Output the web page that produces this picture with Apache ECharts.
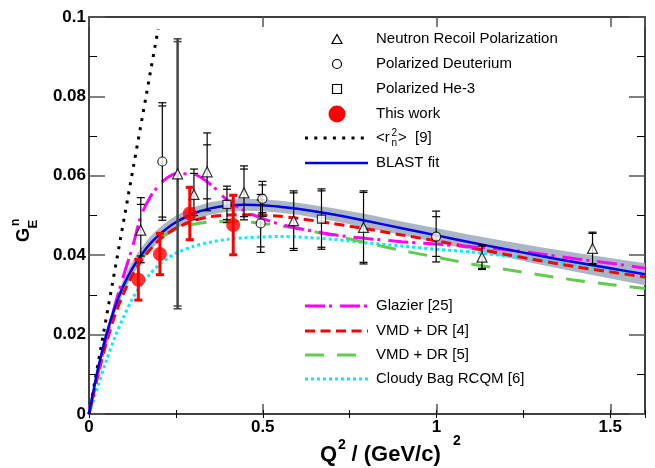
<!DOCTYPE html>
<html><head><meta charset="utf-8">
<script src="https://cdn.jsdelivr.net/npm/echarts@6/dist/echarts.min.js"></script>
<style>html,body{margin:0;padding:0;background:#fff}#c{width:655px;height:468px}</style>
</head><body><div id="c"></div>
<script>
// ---------- data ----------
const gridX    = [0,0.025,0.05,0.075,0.1,0.125,0.15,0.175,0.2,0.225,0.25,0.3,0.35,0.4,0.45,0.5,0.55,0.6,0.7,0.8,0.9,1.0,1.1,1.2,1.3,1.4,1.5,1.6];
const blastY   = [0,0.011,0.020,0.027,0.0325,0.0367,0.040,0.0428,0.045,0.0468,0.0483,0.0505,0.0518,0.0525,0.0527,0.0526,0.0522,0.0517,0.0503,0.0486,0.0468,0.0450,0.0432,0.0415,0.0398,0.0382,0.0367,0.0352];
const blastErr = [0,0.0008,0.0012,0.0015,0.0017,0.0018,0.0018,0.0018,0.0017,0.0017,0.0017,0.0016,0.0016,0.0015,0.0015,0.0015,0.0015,0.0015,0.0016,0.0017,0.0017,0.0018,0.0019,0.0020,0.0022,0.0024,0.0026,0.0028];
const vmd4Y    = [0,0.0095,0.018,0.025,0.0305,0.0350,0.0385,0.0413,0.0437,0.0454,0.0468,0.0487,0.0497,0.0501,0.0502,0.0501,0.0498,0.0493,0.0480,0.0466,0.0451,0.0436,0.0419,0.0402,0.0386,0.0371,0.0358,0.0345];
const vmd5Y    = [0,0.011,0.020,0.027,0.032,0.0362,0.0395,0.042,0.0440,0.0454,0.0465,0.0478,0.0484,0.0485,0.0484,0.0480,0.0474,0.0467,0.0450,0.0431,0.0412,0.0395,0.0378,0.0364,0.0350,0.0337,0.0326,0.0316];
const glazierY = [0,0.010,0.019,0.0275,0.035,0.042,0.050,0.0545,0.0575,0.0595,0.0605,0.0604,0.0578,0.0537,0.0510,0.0492,0.0478,0.0468,0.0452,0.0442,0.0434,0.0428,0.0421,0.0414,0.0403,0.0391,0.0380,0.0367];
const cloudyY  = [0,0.0068,0.0135,0.0195,0.0245,0.029,0.0325,0.0352,0.0375,0.0391,0.0405,0.0422,0.0433,0.0440,0.0444,0.0446,0.0447,0.0446,0.0440,0.0431,0.0423,0.0415,0.0408,0.0398,0.0387,0.0375,0.0364,0.0351];
const radiusX  = [0,0.199];
const radiusY  = [0,0.097];

// Neutron recoil polarization
const nrpX    = [0.149,0.302,0.340,0.446,0.589,0.790,1.131,1.449];
const nrpY    = [0.0463,0.0553,0.0610,0.0557,0.0487,0.0470,0.0395,0.0417];
const nrpErr  = [0.0082,0.0064,0.0098,0.0068,0.0075,0.0092,0.0031,0.0041];
const nrpStat = [0.0065,0.0053,0.0068,0.0060,0.0070,0.0088,0.0028,0.0038];
const nrpWideX = [0.255], nrpWideY = [0.0605], nrpWideErr = [0.0340], nrpWideStat = [0.0333];
// Polarized deuterium
const pdX    = [0.211,0.494,0.499,0.999];
const pdY    = [0.0636,0.0480,0.0542,0.0447];
const pdErr  = [0.0148,0.0073,0.0044,0.0064];
const pdStat = [0.0140,0.0059,0.0035,0.0050];
// Polarized He-3
const heX    = [0.397,0.669];
const heY    = [0.0528,0.0491];
const heErr  = [0.0046,0.0076];
const heStat = [0.0038,0.0071];
// This work
const twX   = [0.142,0.204,0.290,0.415];
const twY   = [0.0338,0.0403,0.0505,0.0476];
const twErr = [0.0051,0.0052,0.0066,0.0075];

const xRange = [0, 1.6], yRange = [0, 0.1];

// ---------- helpers ----------
const FONT = '"Liberation Sans", Arial, Helvetica, sans-serif';
function zip(){ const a = arguments; return a[0].map((_, i) => Array.prototype.map.call(a, arr => arr[i])); }
function errRender(color, width, capHalf, capWidth){
  return function(params, api){
    const x = api.value(0), y = api.value(1), e = api.value(2), s = api.value(3);
    const t = api.coord([x, y + e]), b = api.coord([x, y - e]);
    const st = {stroke: color, lineWidth: width};
    const cs = {stroke: color, lineWidth: capWidth};
    const ch = [
      {type:'line', shape:{x1:t[0], y1:t[1], x2:b[0], y2:b[1]}, style: st},
      {type:'line', shape:{x1:t[0]-capHalf, y1:t[1], x2:t[0]+capHalf, y2:t[1]}, style: cs},
      {type:'line', shape:{x1:b[0]-capHalf, y1:b[1], x2:b[0]+capHalf, y2:b[1]}, style: cs}
    ];
    if (s && !isNaN(s)) {
      const ts = api.coord([x, y + s]), bs = api.coord([x, y - s]);
      ch.push({type:'line', shape:{x1:ts[0]-capHalf, y1:ts[1], x2:ts[0]+capHalf, y2:ts[1]}, style: cs});
      ch.push({type:'line', shape:{x1:bs[0]-capHalf, y1:bs[1], x2:bs[0]+capHalf, y2:bs[1]}, style: cs});
    }
    return {type:'group', children: ch};
  };
}
function lineSeries(name, ys, color, width, dash, z){
  return {type:'line', name, data: zip(gridX, ys), showSymbol:false, symbol:'none', smooth:0.3, z: z || 2,
    lineStyle:{color, width, type: dash, cap:'butt'}, silent:true, animation:false};
}

const chart = echarts.init(document.getElementById('c'), null, {renderer:'canvas'});

const labelStyle = {color:'#000', fontFamily: FONT, fontWeight:'bold', fontSize:17};
const majTickY = {show:true, inside:true, length:16, lineStyle:{color:'#555', width:1.5}};
const minTickY = {show:true, splitNumber:2, length:8, lineStyle:{color:'#000', width:1}};
const axLine = {show:true, onZero:false, lineStyle:{color:'#000', width:1.5}};

const option = {
  animation:false,
  backgroundColor:'#fff',
  grid:{left:89, right:10, top:17, bottom:54, containLabel:false, outerBoundsMode:'none'},
  xAxis:[
    {type:'value', position:'bottom', min:xRange[0], max:xRange[1], interval:0.5,
     axisLine: axLine, splitLine:{show:false},
     axisTick:{show:true, inside:true, length:10, lineStyle:{color:'#555', width:1.5}},
     axisLabel:Object.assign({margin:5, showMaxLabel:false, showMinLabel:true}, labelStyle)},
    {type:'value', position:'bottom', min:xRange[0], max:xRange[1], interval:0.25,
     axisLine:{show:false}, splitLine:{show:false}, axisLabel:{show:false},
     axisTick:{show:true, inside:true, length:4, lineStyle:{color:'#000', width:1}}},
    {type:'value', position:'top', min:xRange[0], max:xRange[1], interval:0.5,
     axisLine: axLine, splitLine:{show:false}, axisLabel:{show:false},
     axisTick:{show:true, inside:true, length:10, lineStyle:{color:'#555', width:1.5}}},
    {type:'value', position:'top', min:xRange[0], max:xRange[1], interval:0.25,
     axisLine:{show:false}, splitLine:{show:false}, axisLabel:{show:false},
     axisTick:{show:true, inside:true, length:4, lineStyle:{color:'#000', width:1}}}
  ],
  yAxis:[
    {type:'value', position:'left', min:yRange[0], max:yRange[1], interval:0.02,
     axisLine: axLine, splitLine:{show:false}, axisTick: majTickY, minorTick: minTickY,
     axisLabel:Object.assign({margin:3}, labelStyle)},
    {type:'value', position:'right', min:yRange[0], max:yRange[1], interval:0.02,
     axisLine: axLine, splitLine:{show:false}, axisTick: majTickY, minorTick: minTickY,
     axisLabel:{show:false}}
  ],
  series:[
    {type:'custom', name:'band', z:1, clip:true, silent:true, data:[[0,0]],
     renderItem:function(params, api){
       const up = [], dn = [];
       for (let i = 0; i < gridX.length; i++){
         up.push(api.coord([gridX[i], blastY[i] + blastErr[i]]));
         dn.push(api.coord([gridX[i], blastY[i] - blastErr[i]]));
       }
       return {type:'polygon', shape:{points: up.concat(dn.reverse())}, style:{fill:'#aab6c3'}};
     }},
    lineSeries('Cloudy Bag RCQM [6]', cloudyY, '#00eeff', 3, [3,3]),
    lineSeries('VMD + DR [5]', vmd5Y, '#5fcc4f', 3, [19,13]),
    lineSeries('VMD + DR [4]', vmd4Y, '#ff0000', 3, [10,5.5]),
    lineSeries('Glazier [25]', glazierY, '#ff00ff', 3, [20,4,3,8]),
    lineSeries('BLAST fit', blastY, '#0000ee', 2.5, 'solid', 3),
    {type:'line', name:'radius', data: zip(radiusX, radiusY), showSymbol:false, symbol:'none', z:2,
     lineStyle:{color:'#000', width:3, type:[3,6.3], cap:'butt'}, silent:true},
    // error bars
    {type:'custom', z:4, clip:true, silent:true, data: zip(nrpWideX, nrpWideY, nrpWideErr, nrpWideStat),
     encode:{x:0, y:1}, renderItem: errRender('#444', 2.5, 4, 1.5)},
    {type:'custom', z:4, clip:true, silent:true, data: zip(nrpX, nrpY, nrpErr, nrpStat),
     encode:{x:0, y:1}, renderItem: errRender('#000', 1.2, 4, 1.2)},
    {type:'custom', z:4, clip:true, silent:true, data: zip(pdX, pdY, pdErr, pdStat),
     encode:{x:0, y:1}, renderItem: errRender('#000', 1.2, 4, 1.2)},
    {type:'custom', z:4, clip:true, silent:true, data: zip(heX, heY, heErr, heStat),
     encode:{x:0, y:1}, renderItem: errRender('#000', 1.2, 4, 1.2)},
    // markers
    {type:'scatter', name:'Neutron Recoil Polarization', z:5, data: zip(nrpX, nrpY).concat(zip(nrpWideX, nrpWideY)),
     symbol:'triangle', symbolSize:[10,10], itemStyle:{color:'#fff', borderColor:'#000', borderWidth:1.2}, silent:true},
    {type:'scatter', name:'Polarized Deuterium', z:5, data: zip(pdX, pdY),
     symbol:'circle', symbolSize:9, itemStyle:{color:'#fff', borderColor:'#000', borderWidth:1.2}, silent:true},
    {type:'scatter', name:'Polarized He-3', z:5, data: zip(heX, heY),
     symbol:'rect', symbolSize:8, itemStyle:{color:'#fff', borderColor:'#000', borderWidth:1.2}, silent:true},
    {type:'custom', z:6, clip:true, silent:true, data: zip(twX, twY, twErr),
     encode:{x:0, y:1}, renderItem: errRender('#ff0000', 3, 4, 3)},
    {type:'scatter', name:'This work', z:7, data: zip(twX, twY),
     symbol:'circle', symbolSize:14, itemStyle:{color:'#ff0000'}, silent:true}
  ],
  graphic:[]
};

// ---------- legend & titles (graphic) ----------
const G = option.graphic;
const LX0 = 305, LX1 = 368, LC = 337, TX = 376;
function ltext(t, y){ G.push({type:'text', x:TX, y:y, z:100, style:{text:t, fill:'#000', fontSize:15, fontFamily:FONT, verticalAlign:'middle', align:'left'}}); }
function lline(y, color, w, dash){ G.push({type:'line', z:100, shape:{x1:LX0, y1:y, x2:LX1, y2:y}, style:{stroke:color, lineWidth:w, lineDash: dash, lineCap:'butt'}}); }
G.push({type:'polygon', z:100, shape:{points:[[LC,34.5],[LC+5,43.5],[LC-5,43.5]]}, style:{fill:'#fff', stroke:'#000', lineWidth:1.2}});
ltext('Neutron Recoil Polarization', 39);
G.push({type:'circle', z:100, shape:{cx:LC, cy:64, r:4.5}, style:{fill:'#fff', stroke:'#000', lineWidth:1.2}});
ltext('Polarized Deuterium', 64);
G.push({type:'rect', z:100, shape:{x:LC-4.5, y:84.5, width:9, height:9}, style:{fill:'#fff', stroke:'#000', lineWidth:1.2}});
ltext('Polarized He-3', 89);
G.push({type:'circle', z:100, shape:{cx:LC, cy:114, r:8.5}, style:{fill:'#ff0000'}});
ltext('This work', 114);
lline(138, '#000', 3, [3,6.3]);
G.push({type:'text', x:TX, y:138, z:100, style:{text:'<r', fill:'#000', fontSize:15, fontFamily:FONT, verticalAlign:'middle'}});
G.push({type:'text', x:391.5, y:133, z:100, style:{text:'2', fill:'#000', fontSize:10, fontFamily:FONT, verticalAlign:'middle'}});
G.push({type:'text', x:391.5, y:143, z:100, style:{text:'n', fill:'#000', fontSize:10, fontFamily:FONT, verticalAlign:'middle'}});
G.push({type:'text', x:398, y:138, z:100, style:{text:'>  [9]', fill:'#000', fontSize:15, fontFamily:FONT, verticalAlign:'middle'}});
lline(163, '#0000ee', 2.5, null);
ltext('BLAST fit', 163);
lline(306, '#ff00ff', 3, [20,4,3,8]);
ltext('Glazier [25]', 306);
lline(331, '#ff0000', 3, [10,5.5]);
ltext('VMD + DR [4]', 331);
lline(355, '#5fcc4f', 3, [19,13]);
ltext('VMD + DR [5]', 355);
lline(379, '#00eeff', 3, [3,3]);
ltext('Cloudy Bag RCQM [6]', 379);

// x-axis title
function btext(t, x, y, fs){ G.push({type:'text', x:x, y:y, z:100, style:{text:t, fill:'#000', fontSize:fs, fontWeight:'bold', fontFamily:FONT, verticalAlign:'middle', align:'left'}}); }
btext('Q', 320, 455, 22);
btext('2', 338, 445, 14);
btext('/ (GeV/c)', 351.5, 455, 22);
btext('2', 453, 441.5, 14);
// y-axis title (rotated)
G.push({type:'text', x:24, y:242, rotation:Math.PI/2, z:100, style:{text:'G', fill:'#000', fontSize:18, fontWeight:'bold', fontFamily:FONT, verticalAlign:'middle', align:'left'}});
G.push({type:'text', x:15.8, y:226, rotation:Math.PI/2, z:100, style:{text:'n', fill:'#000', fontSize:12, fontWeight:'bold', fontFamily:FONT, verticalAlign:'middle', align:'left'}});
G.push({type:'text', x:33.5, y:228.5, rotation:Math.PI/2, z:100, style:{text:'E', fill:'#000', fontSize:13, fontWeight:'bold', fontFamily:FONT, verticalAlign:'middle', align:'left'}});

chart.setOption(option);
</script>
</body></html>
